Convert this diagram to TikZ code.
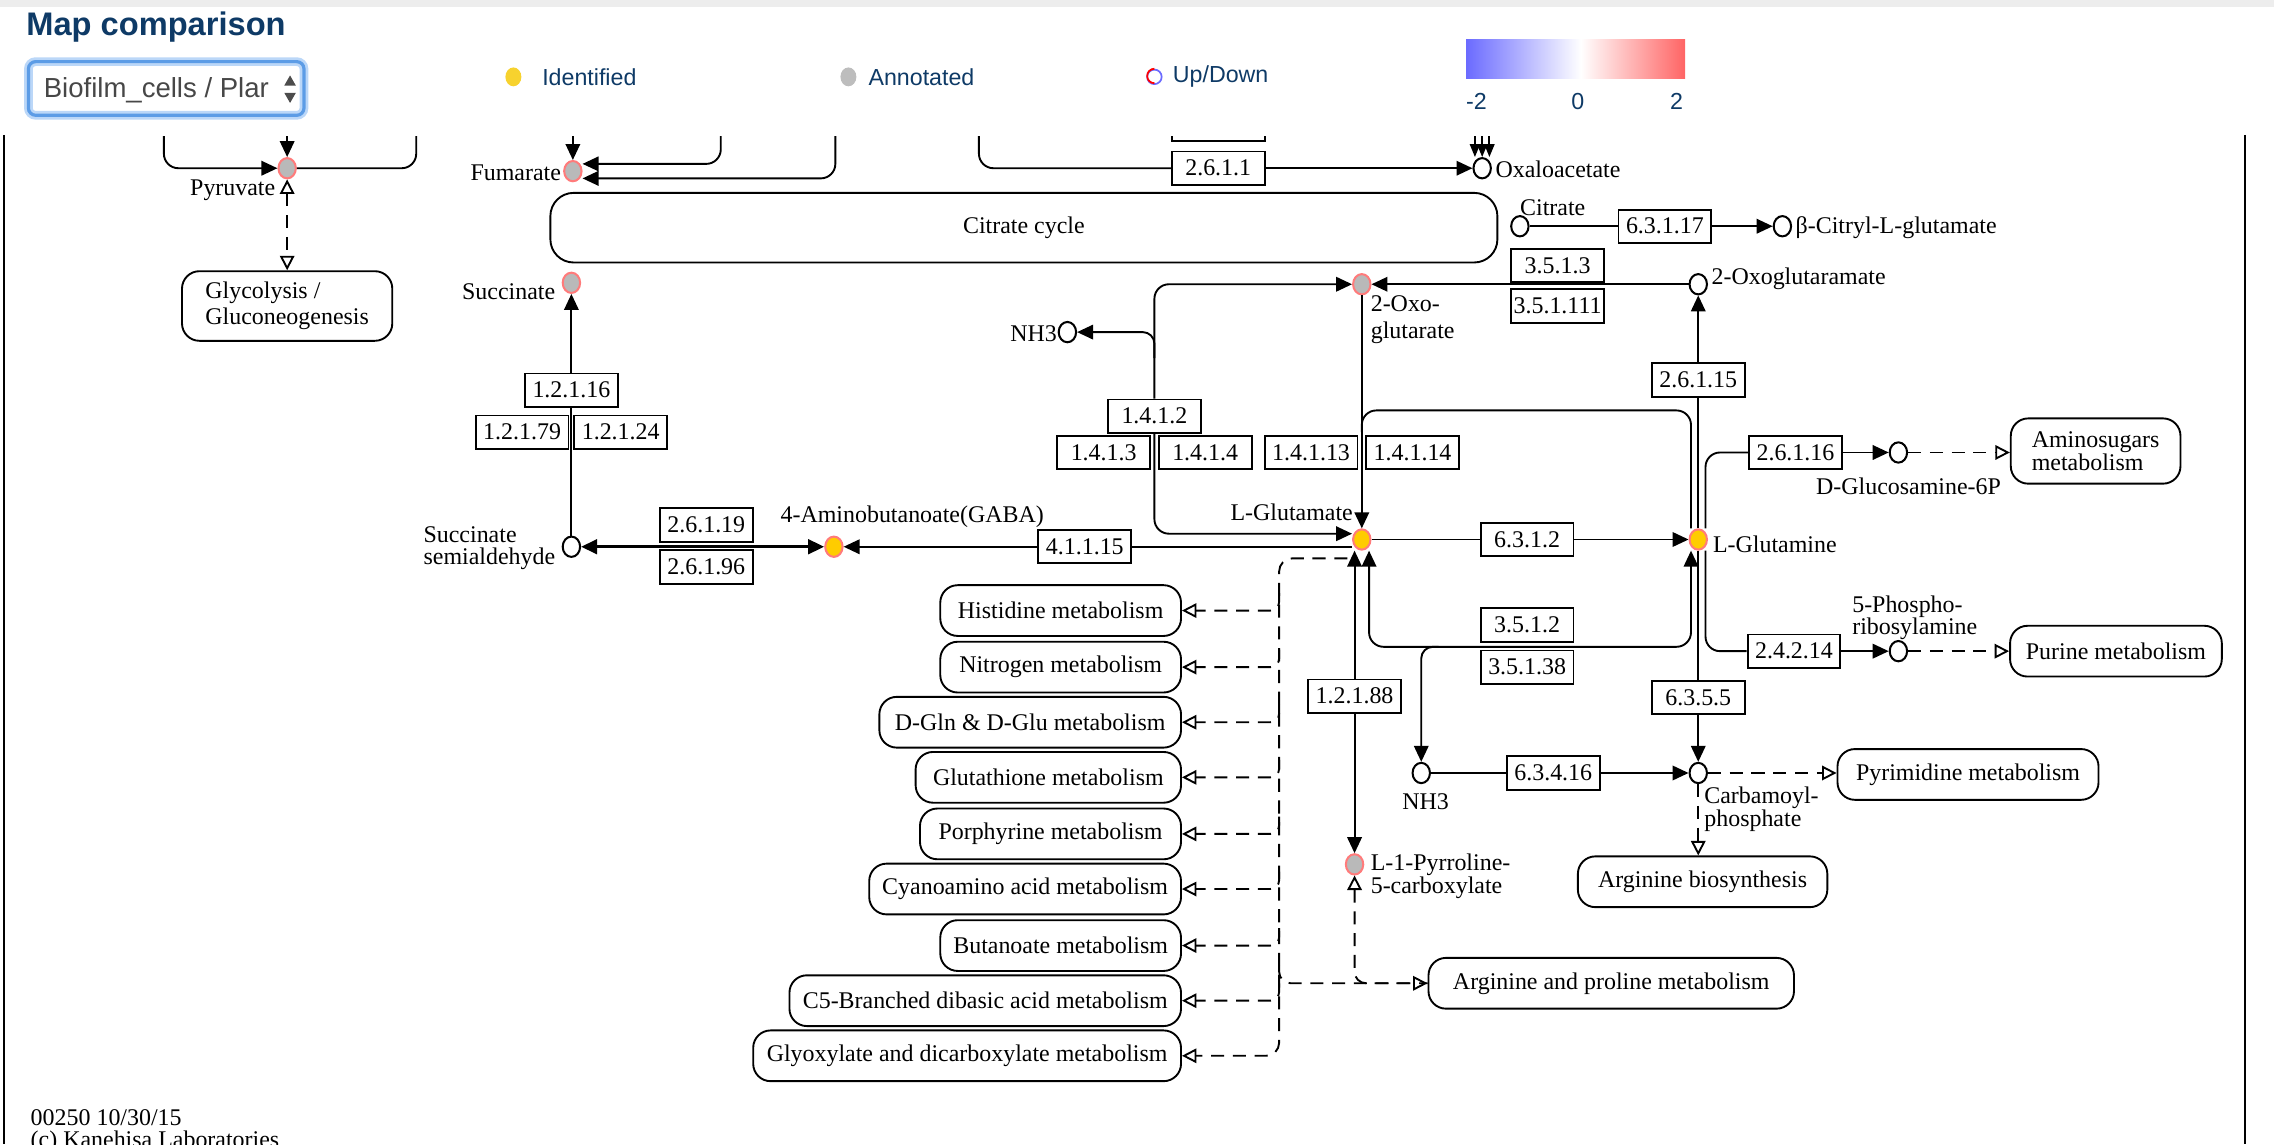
\documentclass[tikz,border=0pt]{standalone}
\usepackage{fontspec}
\setmainfont{Liberation Serif}
\newfontfamily\uifont{Liberation Sans}
\usetikzlibrary{positioning,arrows.meta,shapes.geometric}
\definecolor{PageNavy}{HTML}{0E3A66}
\definecolor{CpdYellow}{HTML}{FFCC00}
\definecolor{CpdGray}{HTML}{B9B9B9}
\definecolor{CpdRim}{HTML}{FF7B7B}
\definecolor{DotYellow}{HTML}{F7D22E}
\definecolor{DotGray}{HTML}{BDBDBD}
\definecolor{SelectBlue}{HTML}{5C9CE6}
\definecolor{SelectGlow}{HTML}{BBD7F8}
\definecolor{ScaleBlue}{HTML}{6B6BFF}
\definecolor{ScaleRed}{HTML}{FF6464}
\newcommand{\keggfont}{\fontsize{16.5}{15}\selectfont}
\newcommand{\keggtwo}{\fontsize{16.5}{18}\selectfont}

\begin{document}
\begin{tikzpicture}[x=1pt,y=-1pt,>={Triangle[length=11pt,width=10pt]},
  every node/.style={font=\keggfont},
  rx/.style={line width=1.3pt},
  lnk/.style={line width=1.3pt,dash pattern=on 9pt off 6pt,-{Triangle[open,length=10pt,width=10pt]}},
  lnkboth/.style={lnk,{Triangle[open,length=10pt,width=10pt]}-{Triangle[open,length=10pt,width=10pt]}},
  cpd/.style={ellipse,draw,line width=1.4pt,fill=white,minimum width=12pt,minimum height=14pt,inner sep=0pt},
  cpdid/.style={cpd,draw=CpdRim,fill=CpdYellow},
  cpdan/.style={cpd,draw=CpdRim,fill=CpdGray},
  enz/.style={draw,line width=1.3pt,fill=white,minimum width=64pt,minimum height=23pt,inner sep=0pt},
  mapbox/.style={draw,line width=1.3pt,fill=white,rounded corners=12pt,minimum height=35pt,inner sep=0pt,align=left},
  lbl/.style={inner sep=1pt,align=left},
  ui/.style={font=\uifont\fontsize{16}{16}\selectfont,text=PageNavy,inner sep=0pt}]
\useasboundingbox (0,0) rectangle (1568,789);
\fill[black!7] (0,0) rectangle (1568,5);

% page header
\node[ui,font=\uifont\bfseries\fontsize{22.5}{22.5}\selectfont,anchor=west] (title) at (18,19) {Map comparison};
\node[draw=SelectBlue,line width=2.2pt,rounded corners=5pt,minimum width=190pt,minimum height=37pt,
  preaction={draw=SelectGlow,line width=6pt},anchor=west] (selector) at (18.5,61) {};
\node[ui,font=\uifont\fontsize{19}{19}\selectfont,text=black!72,anchor=west] (selectlbl) at (30,62) {Biofilm\_cells / Plar};
\fill[black!70] (196,59) -- (204,59) -- (200,52) -- cycle;
\fill[black!70] (196,64) -- (204,64) -- (200,71) -- cycle;
\node[ellipse,fill=DotYellow,minimum width=11pt,minimum height=13pt,inner sep=0pt] (identdot) at (354,53) {};
\node[ui,right=14pt of identdot] (identlbl) {Identified};
\node[ellipse,fill=DotGray,minimum width=11pt,minimum height=13pt,inner sep=0pt] (annotdot) at (585,53) {};
\node[ui,right=8pt of annotdot] (annotlbl) {Annotated};
\node[circle,draw=ScaleBlue,line width=1.2pt,minimum size=10pt,inner sep=0pt] (updot) at (796,53) {};
\draw[red,line width=1.2pt] (updot.north) arc[start angle=90,end angle=270,radius=5pt];
\node[ui,right=7pt of updot] (updownlbl) {Up/Down};
\shade[left color=ScaleBlue,right color=white] (1011,27) rectangle (1090,54);
\shade[left color=white,right color=ScaleRed] (1090,27) rectangle (1162,54);
\node[ui] (scalemin) at (1018,70) {-2};
\node[ui] (scalemid) at (1088,70) {0};
\node[ui] (scalemax) at (1156,70) {2};

% map frame
\draw[line width=1.3pt] (3,93) -- (3,789);
\draw[line width=1.3pt] (1548,93) -- (1548,789);

\begin{scope}
\clip (4,94) rectangle (1547,789);
% compounds
\node[cpdan] (pyruvate) at (198,116) {};
\node[cpdan] (fumarate) at (395,118) {};
\node[cpd] (oxaloacetate) at (1022,116) {};
\node[cpd] (citrate) at (1048,156) {};
\node[cpd] (citrylglu) at (1229,156) {};
\node[cpdan] (succinate) at (394,195) {};
\node[cpdan] (oxoglu) at (939,196) {};
\node[cpd] (oxoglm) at (1171,196) {};
\node[cpd] (ammoniaA) at (736,229) {};
\node[cpd] (semiald) at (394,377) {};
\node[cpdid] (gaba) at (575,377) {};
\node[cpdid] (glutamate) at (939,372) {};
\node[cpdid] (glutamine) at (1171,372) {};
\node[cpd] (glcn6p) at (1309,312) {};
\node[cpd] (prbam) at (1309,449) {};
\node[cpd] (ammoniaB) at (980,533) {};
\node[cpd] (carbp) at (1171,533) {};
\node[cpdan] (pyrroline) at (934,596) {};

% enzymes
\node[enz] (ecupper) at (840,86) {};
\node[enz] (ec2611) at (840,116) {2.6.1.1};
\node[enz] (ec63117) at (1148,156) {6.3.1.17};
\node[enz] (ec3513) at (1074,183) {3.5.1.3};
\node[enz] (ec351111) at (1074,211) {3.5.1.111};
\node[enz] (ec12116) at (394,269) {1.2.1.16};
\node[enz] (ec12179) at (360,298) {1.2.1.79};
\node[enz] (ec12124) at (428,298) {1.2.1.24};
\node[enz] (ec26119) at (487,362) {2.6.1.19};
\node[enz] (ec26196) at (487,391) {2.6.1.96};
\node[enz] (ec41115) at (748,377) {4.1.1.15};
\node[enz] (ec1412) at (796,287) {1.4.1.2};
\node[enz] (ec1413) at (761,312) {1.4.1.3};
\node[enz] (ec1414) at (831,312) {1.4.1.4};
\node[enz] (ec14113) at (904,312) {1.4.1.13};
\node[enz] (ec14114) at (974,312) {1.4.1.14};
\node[enz] (ec26115) at (1171,262) {2.6.1.15};
\node[enz] (ec26116) at (1238,312) {2.6.1.16};
\node[enz] (ec6312) at (1053,372) {6.3.1.2};
\node[enz] (ec3512) at (1053,431) {3.5.1.2};
\node[enz] (ec35138) at (1053,460) {3.5.1.38};
\node[enz] (ec12188) at (934,480) {1.2.1.88};
\node[enz] (ec6355) at (1171,481) {6.3.5.5};
\node[enz] (ec24214) at (1237,449) {2.4.2.14};
\node[enz] (ec63416) at (1071,533) {6.3.4.16};

% pathway maps
\node[mapbox,minimum width=145pt,minimum height=48pt,font=\keggtwo] (glycolysis) at (198,211) {Glycolysis /\\Gluconeogenesis};
\node[mapbox,minimum width=653pt,minimum height=48pt,rounded corners=16pt] (tca) at (706,157) {Citrate cycle};
\node[mapbox,minimum width=117pt,minimum height=45pt] (aminosugar) at (1445,311) {Aminosugars\\metabolism};
\node[mapbox,minimum width=146pt] (purine) at (1459,449) {Purine metabolism};
\node[mapbox,minimum width=180pt] (pyrimidine) at (1357,534) {Pyrimidine metabolism};
\node[mapbox,minimum width=172pt] (argbio) at (1174,608) {Arginine biosynthesis};
\node[mapbox,minimum width=252pt] (argpro) at (1111,678) {Arginine and proline metabolism};
\node[mapbox,minimum width=166pt,anchor=east] (histidine) at (815,421) {Histidine metabolism};
\node[mapbox,minimum width=166pt,anchor=east] (nitrogen) at (815,460) {Nitrogen metabolism};
\node[mapbox,minimum width=208pt,anchor=east] (dglnglu) at (815,498) {D-Gln \& D-Glu metabolism};
\node[mapbox,minimum width=183pt,anchor=east] (glutathione) at (815,536) {Glutathione metabolism};
\node[mapbox,minimum width=180pt,anchor=east] (porphyrine) at (815,575) {Porphyrine metabolism};
\node[mapbox,minimum width=215pt,anchor=east] (cyanoamino) at (815,613) {Cyanoamino acid metabolism};
\node[mapbox,minimum width=166pt,anchor=east] (butanoate) at (815,652) {Butanoate metabolism};
\node[mapbox,minimum width=270pt,anchor=east] (cfive) at (815,690) {C5-Branched dibasic acid metabolism};
\node[mapbox,minimum width=295pt,anchor=east] (glyoxylate) at (815,728) {Glyoxylate and dicarboxylate metabolism};

% free ends of connectors
\coordinate (pyrL) at (113,88);
\coordinate (pyrR) at (287,88);
\coordinate (pyrT) at (198,88);
\coordinate (fumT) at (395,88);
\coordinate (fumA) at (497,88);
\coordinate (fumB) at (576,88);
\coordinate (oaaL) at (675,88);
\coordinate (nhbranch) at (796,247);
\coordinate (gsbranch) at (939,298);
\coordinate (amidbranch) at (992,446);
\coordinate (busstart) at (929,385);
\coordinate (busx) at (882,0);

% reactions
\draw[rx,->,rounded corners=10pt] (pyrL) |- (pyruvate);
\draw[rx,rounded corners=10pt] (pyruvate) -| (pyrR);
\draw[rx,->] (pyrT) -- (pyruvate);
\draw[lnkboth] (pyruvate) -- (glycolysis);
\draw[rx,->] (fumT) -- (fumarate);
\draw[rx,->,rounded corners=10pt] (fumA) |- ([yshift=5pt]fumarate.east);
\draw[rx,->,rounded corners=10pt] (fumB) |- ([yshift=-5pt]fumarate.east);
\draw[rx,rounded corners=10pt] (oaaL) |- (ec2611);
\draw[rx,->] (ec2611) -- (oxaloacetate);
\foreach \dx in {-5,0,5}
  \draw[rx,-{Triangle[length=9pt,width=7pt]}] ([xshift=\dx pt]oxaloacetate.north) ++(0,-18) -- ([xshift=\dx pt]oxaloacetate.north);
\draw[rx] (citrate) -- (ec63117);
\draw[rx,->] (ec63117) -- (citrylglu);
\draw[rx] (semiald) -- (ec12116);
\draw[rx,->] (ec12116) -- (succinate);
\draw[line width=2pt,<->] (semiald) -- (gaba);
\draw[rx] ([yshift=-5pt]glutamate.west) -- (ec41115);
\draw[rx,->] (ec41115) -- (gaba);
\draw[rx,->] (oxoglu) -- (glutamate);
\draw[rx,<-,rounded corners=10pt] ([yshift=4pt]glutamate.west) -| (ec1412.south);
\draw[rx,->,rounded corners=10pt] (ec1412.north) |- (oxoglu);
\draw[rx,->,rounded corners=8pt] (nhbranch) |- (ammoniaA);
\draw[rx,->] (oxoglm) -- (oxoglu);
\draw[rx] (glutamine) -- (ec26115);
\draw[rx,->] (ec26115) -- (oxoglm);
\draw[rx,rounded corners=10pt] (gsbranch) |- (1166,283) -- ([xshift=-5pt]glutamine.north);
\draw[rx] (glutamate) -- (ec6312);
\draw[rx,->] (ec6312) -- (glutamine);
\draw[rx,rounded corners=10pt] ([xshift=5pt]glutamine.north) |- (ec26116);
\draw[rx,->] (ec26116) -- (glcn6p);
\draw[lnk] (glcn6p) -- (glcn6p -| aminosugar.west);
\draw[rx,rounded corners=10pt] ([xshift=5pt]glutamine.south) |- (ec24214);
\draw[rx,->] (ec24214) -- (prbam);
\draw[lnk] (prbam) -- (prbam -| purine.west);
\draw[rx,<->,rounded corners=10pt] ([xshift=5pt]glutamate.south) |- (1166,446) -- ([xshift=-5pt]glutamine.south);
\draw[rx,->,rounded corners=8pt] (amidbranch) -| (ammoniaB);
\draw[rx,<-] ([xshift=-5pt]glutamate.south) -- (ec12188);
\draw[rx,->] (ec12188) -- (pyrroline);
\draw[rx] (glutamine) -- (ec6355);
\draw[rx,->] (ec6355) -- (carbp);
\draw[rx] (ammoniaB) -- (ec63416);
\draw[rx,->] (ec63416) -- (carbp);
\draw[lnk] (carbp) -- (carbp -| pyrimidine.west);
\draw[lnk] (carbp) -- (carbp |- argbio.north);
\draw[lnkboth,rounded corners=8pt] (pyrroline) |- (argpro);

% links from L-glutamate to other maps
\draw[lnk,rounded corners=9pt] (busstart) -| (busx |- glyoxylate.east) -- (glyoxylate.east);
\foreach \pw in {histidine,nitrogen,dglnglu,glutathione,porphyrine,cyanoamino,butanoate,cfive}
  \draw[lnk,rounded corners=6pt] (busx |- \pw.east) ++(0,-12) |- (\pw.east);
\draw[rx,dash pattern=on 9pt off 6pt,rounded corners=8pt] (busx |- argpro.west) ++(0,-12) |- (argpro.west);

% compound names
\node[lbl,anchor=east] (pyrlbl) at (191,131) {Pyruvate};
\node[lbl,anchor=east] (fumlbl) at (388,119) {Fumarate};
\node[lbl,anchor=west] (oaalbl) at (1030,117) {Oxaloacetate};
\node[lbl,anchor=west] (citlbl) at (1047,143) {Citrate};
\node[lbl,anchor=west] (cglbl) at (1237,157) {β-Citryl-L-glutamate};
\node[lbl,anchor=east] (suclbl) at (384,201) {Succinate};
\node[lbl,anchor=north west,font=\keggtwo] (oxolbl) at (944,203) {2-Oxo-\\glutarate};
\node[lbl,anchor=east] (nhalbl) at (730,230) {NH3};
\node[lbl,anchor=west] (oxmlbl) at (1179,192) {2-Oxoglutaramate};
\node[lbl,anchor=east] (ssalbl) at (384,378) {Succinate\\semialdehyde};
\node[lbl] (gabalbl) at (629,356) {4-Aminobutanoate(GABA)};
\node[lbl,anchor=east] (glulbl) at (934,353) {L-Glutamate};
\node[lbl,anchor=west] (glnlbl) at (1180,375) {L-Glutamine};
\node[lbl] (g6plbl) at (1316,335) {D-Glucosamine-6P};
\node[lbl,anchor=west] (prblbl) at (1276,426) {5-Phospho-\\ribosylamine};
\node[lbl] (nhblbl) at (983,553) {NH3};
\node[lbl,anchor=west] (cbplbl) at (1174,558) {Carbamoyl-\\phosphate};
\node[lbl,anchor=west] (p5clbl) at (944,604) {L-1-Pyrroline-\\5-carboxylate};
\node[lbl,anchor=north west] (mapid) at (20,764) {00250 10/30/15\\(c) Kanehisa Laboratories};
\end{scope}
\end{tikzpicture}
\end{document}
